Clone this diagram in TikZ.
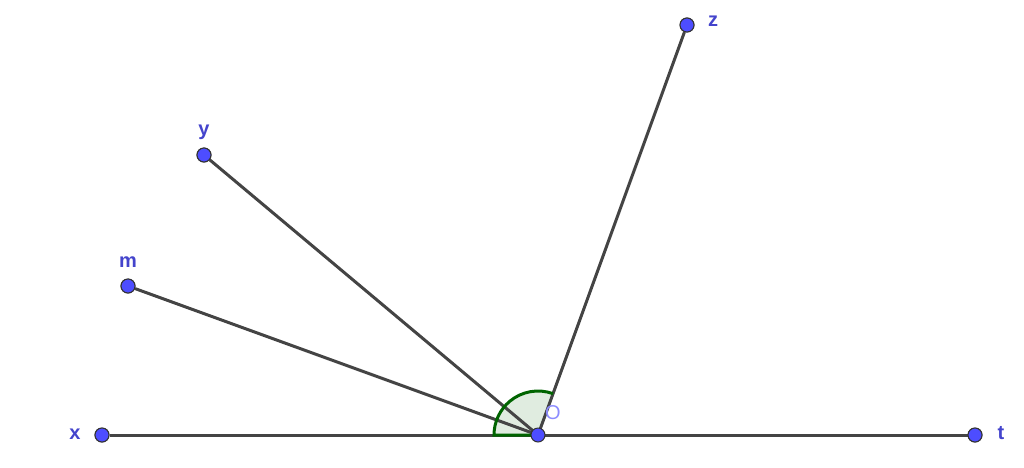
\documentclass[tikz,border=0pt]{standalone}
\usepackage{fontspec}
\setmainfont{Liberation Sans}
\definecolor{ptblue}{RGB}{77,77,255}
\definecolor{lblblue}{RGB}{68,68,204}
\definecolor{olbl}{RGB}{140,140,255}
\definecolor{seg}{RGB}{68,68,68}
\definecolor{angdark}{RGB}{0,100,0}
\definecolor{angfill}{RGB}{224,236,224}
\tikzset{
  pt/.style={circle,fill=ptblue,draw=black!80,line width=1pt,inner sep=0pt,minimum size=14pt},
  lbl/.style={text=lblblue,font=\bfseries\fontsize{20}{20}\selectfont,inner sep=0pt},
  seg/.style={draw=seg,line width=3pt},
}
\begin{document}
\begin{tikzpicture}[x=1pt,y=-1pt]
\useasboundingbox (0,0) rectangle (1024,467);
\coordinate (Oc) at (538,435);
% angle sector
\fill[angfill] (Oc) -- ++(180:44) arc[start angle=180,end angle=290,radius=44] -- cycle;
\node[pt] (X) at (102,435) {};
\node[pt] (T) at (975,435) {};
\node[pt] (M) at (128,286) {};
\node[pt] (Y) at (204,155) {};
\node[pt] (Z) at (687,25) {};
\draw[seg] (X) -- (Oc) -- (T);
\draw[seg] (M) -- (Oc);
\draw[seg] (Y) -- (Oc);
\draw[seg] (Z) -- (Oc);
\draw[angdark,line width=3pt] (Oc) ++(290:44) arc[start angle=290,end angle=180,radius=44] -- (Oc);
\node[pt] (O) at (Oc) {};
\node[pt] at (102,435) {};
\node[pt] at (975,435) {};
\node[pt] at (128,286) {};
\node[pt] at (204,155) {};
\node[pt] at (687,25) {};
\node[lbl] (lx) at (75,434) {x};
\node[lbl] (lt) at (1001,433) {t};
\node[lbl] (lm) at (128,262) {m};
\node[lbl] (ly) at (204,132) {y};
\node[lbl] (lz) at (713,21) {z};
\node[text=olbl,font=\fontsize{20}{20}\selectfont,inner sep=0pt] (lo) at (553,413) {O};
\end{tikzpicture}
\end{document}
